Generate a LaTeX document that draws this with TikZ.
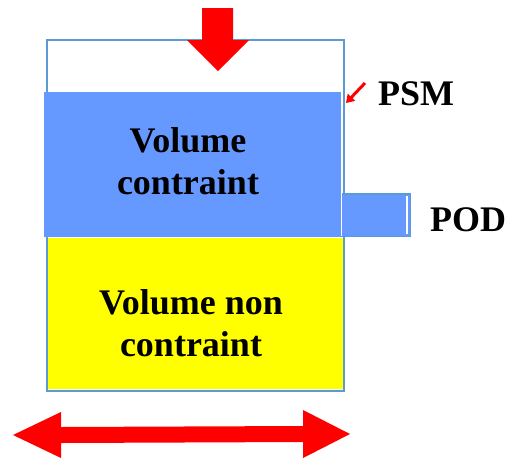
\documentclass[tikz,border=0pt]{standalone}
\usepackage{fontspec}
\setmainfont{Liberation Serif}
\usetikzlibrary{positioning, arrows.meta}
\definecolor{blockblue}{HTML}{6699FF}
\definecolor{edgeblue}{HTML}{5B9BD5}
\definecolor{softyellow}{HTML}{FFFF00}
\definecolor{loadred}{HTML}{FF0000}

\begin{document}
\begin{tikzpicture}[x=1pt, y=-1pt,
  block/.style={inner sep=0pt, anchor=north west},
  bigtxt/.style={font=\fontsize{36}{42}\selectfont\bfseries, align=center, text=black, inner sep=0pt},
  fatarrow/.style={fill=loadred, draw=none},
  rim/.style={draw=edgeblue, line width=1.6pt},
]
\useasboundingbox (0,0) rectangle (506,459);

% container outline
\node[block, rim, minimum width=297pt, minimum height=351pt] (box) at (46,39) {};

% stressed part + side outlet
\node[block, fill=blockblue, minimum width=68pt, minimum height=42pt] (pod) at (342,194) {};
\draw[rim] (pod.north west) -- (pod.north east) -- (pod.south east) -- ([xshift=-3pt]pod.south west);
\draw[white, line width=1.2pt] ([xshift=-3.5pt, yshift=-2pt]pod.north east) -- ([xshift=-3.5pt, yshift=2pt]pod.south east);
\node[block, fill=blockblue, minimum width=297pt, minimum height=145pt] (vc) at (44,92) {};

% unstressed part
\node[block, fill=softyellow, minimum width=295pt, minimum height=151pt] (vnc) at (48,238) {};

% texts
\node[bigtxt] (vctxt) at (188,161) {Volume\\contraint};
\node[bigtxt] (vnctxt) at (191,323) {Volume non\\contraint};
\node[bigtxt, anchor=west] (psm) at (378,94) {PSM};
\node[bigtxt, anchor=west] (pod label) at (430,220) {POD};

% PSM pointer
\coordinate (psmtail) at (365,83);
\coordinate (psmtip) at (346,103);
\draw[loadred, line width=3pt, -{Triangle[length=8pt, width=10pt]}] (psmtail) -- (psmtip);

% load arrow
\fill[fatarrow] (202,8) -- (233,8) -- (233,40) -- (249,40) -- (218,71) -- (187,40) -- (202,40) -- cycle;

% lateral arrow
\fill[fatarrow] (13,435) -- (61,412) -- (61,427) -- (303,426) -- (303,410) -- (350,434)
  -- (303,458) -- (303,442) -- (61,443) -- (61,458) -- cycle;

\end{tikzpicture}
\end{document}
